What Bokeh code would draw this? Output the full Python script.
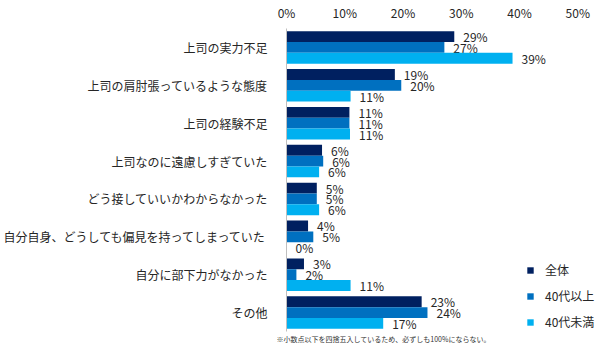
from bokeh.plotting import figure
from bokeh.models import (FactorRange, Range1d, FixedTicker, ColumnDataSource,
                          Legend, LegendItem, Title)
from bokeh.transform import dodge
from bokeh.core.properties import value
from bokeh.embed import file_html
from bokeh.resources import INLINE

categories = ["上司の実力不足", "上司の肩肘張っているような態度", "上司の経験不足",
              "上司なのに遠慮しすぎていた", "どう接していいかわからなかった",
              "自分自身、どうしても偏見を持ってしまっていた", "自分に部下力がなかった", "その他"]
series_names = ["全体", "40代以上", "40代未満"]
zentai = [28.8, 18.6, 10.8, 6.1, 5.2, 3.7, 3.0, 23.2]
over40 = [27.1, 19.7, 10.8, 6.3, 5.2, 4.6, 1.7, 24.2]
under40 = [38.8, 11.0, 10.9, 5.6, 5.6, 0.0, 11.0, 16.6]
tick_values = [0, 10, 20, 30, 40, 50]
tick_labels = ["0%", "10%", "20%", "30%", "40%", "50%"]
footnote = "※小数点以下を四捨五入しているため、必ずしも100%にならない。"

colors = ["#002060", "#0070C0", "#00B0F0"]
FONT = "Noto Sans CJK JP"
TXT = "#262626"

p = figure(width=600, height=343, output_backend="svg", toolbar_location=None,
           y_range=FactorRange(factors=list(reversed(categories)), range_padding=0),
           x_range=Range1d(0, 53.9), x_axis_location="above",
           min_border_left=279, min_border_right=0, min_border_top=20,
           min_border_bottom=10)
p.outline_line_color = None
p.grid.visible = False
p.background_fill_color = "white"
p.border_fill_color = "white"

bar_h = 0.286
offsets = [bar_h, 0.0, -bar_h]
renderers = []
for name, vals, col, off in zip(series_names, [zentai, over40, under40], colors, offsets):
    src = ColumnDataSource(dict(cat=categories, val=vals,
                                lbl=[f"{round(v)}%" for v in vals]))
    r = p.hbar(y=dodge("cat", off, range=p.y_range), right="val", left=0,
               height=bar_h, source=src, fill_color=col, line_color=None)
    renderers.append(r)
    p.text(x="val", y=dodge("cat", off, range=p.y_range), text="lbl", source=src,
           x_offset=9, text_align="left", text_baseline="middle",
           text_font=value(FONT), text_font_size="12px", text_color=TXT)

# x axis (top)
xa = p.xaxis[0]
xa.ticker = FixedTicker(ticks=tick_values)
xa.major_label_overrides = {t: l for t, l in zip(tick_values, tick_labels)}
xa.axis_line_color = None
xa.major_tick_line_color = None
xa.minor_tick_line_color = None
xa.major_label_standoff = 2
xa.major_label_text_font = FONT
xa.major_label_text_font_size = "12px"
xa.major_label_text_color = TXT

# y axis (left)
ya = p.yaxis[0]
ya.axis_line_color = "#BFBFBF"
ya.axis_line_width = 1
ya.major_tick_line_color = None
ya.minor_tick_line_color = None
ya.major_label_standoff = 13
ya.major_label_text_font = FONT
ya.major_label_text_font_size = "12px"
ya.major_label_text_color = TXT

legend = Legend(items=[LegendItem(label=n, renderers=[r]) for n, r in zip(series_names, renderers)],
                location=(240, 1), glyph_width=8, glyph_height=8, label_height=16,
                spacing=9, label_standoff=11, padding=0, margin=0,
                border_line_color=None, background_fill_alpha=0,
                label_text_font=FONT, label_text_font_size="12px", label_text_color=TXT)
p.add_layout(legend, "center")

p.add_layout(Title(text=footnote, align="left", offset=-10, standoff=0,
                   text_font=FONT, text_font_size="7px", text_font_style="normal",
                   text_color="#333333"), "below")

open("out.html", "w").write(file_html(p, INLINE))
